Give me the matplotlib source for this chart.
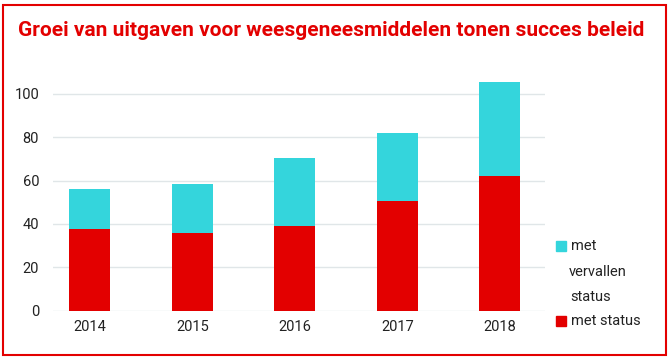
import matplotlib
matplotlib.use('Agg')
import matplotlib.pyplot as plt
from matplotlib.patches import Rectangle

# data
years = ['2014', '2015', '2016', '2017', '2018']
met_status = [37.6, 35.8, 39.2, 50.6, 62.2]
vervallen = [18.5, 22.5, 31.1, 31.3, 43.2]   # stacked on top of met_status
yticks = [0, 20, 40, 60, 80, 100]

red = '#e30000'
cyan = '#34d5dc'

plt.rcParams['font.family'] = ['Roboto', 'DejaVu Sans']

fig = plt.figure(figsize=(6.69, 3.58), dpi=100)
ax = fig.add_axes([53/669, 1 - 310.7/358, (545 - 53)/669, (310.7 - 72)/358])

x = range(len(years))
ax.bar(x, met_status, width=0.4, color=red, zorder=3)
ax.bar(x, vervallen, width=0.4, bottom=met_status, color=cyan, zorder=3)

ax.set_xlim(-0.36, 4.44)
ax.set_ylim(0, 110)
ax.set_yticks(yticks)
ax.set_xticks(list(x))
ax.set_xticklabels(years)
ax.grid(axis='y', color='#e0e6e8', linewidth=1, zorder=0)
ax.tick_params(length=0, labelsize=10.5, colors='#222222')
ax.tick_params(axis='y', pad=10)
ax.tick_params(axis='x', pad=7)
for s in ax.spines.values():
    s.set_visible(False)

# title
fig.text(18/669, 1 - 31/358, 'Groei van uitgaven voor weesgeneesmiddelen tonen succes beleid',
         color=red, fontsize=15, fontweight='bold', va='center', ha='left',
         family=['Roboto', 'DejaVu Sans'])

# legend drawn by hand so the wrapped label lines up like the original
fig.patches.append(Rectangle((556/669, 1 - 251/358), 10/669, 10/358,
                             transform=fig.transFigure, color=cyan))
fig.patches.append(Rectangle((556/669, 1 - 326/358), 10/669, 10/358,
                             transform=fig.transFigure, color=red))
for txt, xp, yp in [('met', 571, 246), ('vervallen', 569, 272),
                    ('status', 570, 297), ('met status', 571, 321)]:
    fig.text(xp/669, 1 - yp/358, txt, fontsize=10.5, color='#222222', va='center', ha='left')

# red frame around the whole picture
fig.patches.append(Rectangle((3/669, 3/358), 663/669, 350/358, transform=fig.transFigure,
                             fill=False, edgecolor=red, linewidth=1.5))

fig.savefig('out.png', dpi=100)
